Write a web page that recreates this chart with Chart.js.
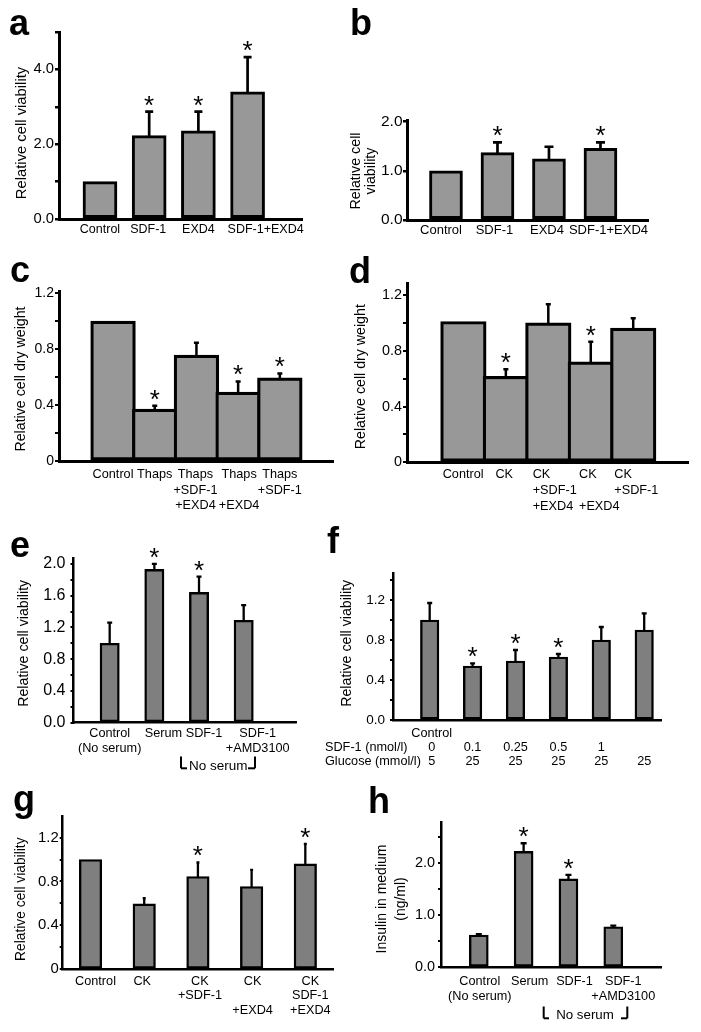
<!DOCTYPE html>
<html><head><meta charset="utf-8">
<script src="https://cdn.jsdelivr.net/npm/chart.js@4.4.1/dist/chart.umd.min.js"></script>
<style>
html,body{margin:0;padding:0;background:#fff;}
body{width:701px;height:1032px;position:relative;overflow:hidden;}
canvas{position:absolute;}
</style></head><body>
<script>
// ---------- DATA ----------
// a
const aCategories = ['Control','SDF-1','EXD4','SDF-1+EXD4'];
const aValues = [1.0, 2.23, 2.36, 3.40];
const aErrors = [null, 2.87, 2.87, 4.33];
const aStars = [false, true, true, true];
const aTicks = [0,1,2,3,4,5];
const aTickLabels = ['0.0','','2.0','','4.0',''];
// b
const bCategories = ['Control','SDF-1','EXD4','SDF-1+EXD4'];
const bValues = [1.0, 1.37, 1.245, 1.46];
const bErrors = [null, 1.58, 1.49, 1.58];
const bStars = [false, true, false, true];
const bTicks = [0,1,2];
const bTickLabels = ['0.0','1.0','2.0'];
// c
const cCategories = ['Control','Thaps',['Thaps','+SDF-1','+EXD4'],['Thaps','','+EXD4'],['Thaps','+SDF-1']];
const cValues = [1.0, 0.371, 0.757, 0.493, 0.595];
const cErrors = [null, 0.395, 0.845, 0.569, 0.626];
const cStars = [false, true, false, true, true];
const cTicks = [0,0.2,0.4,0.6,0.8,1.0,1.2];
const cTickLabels = ['0','','0.4','','0.8','','1.2'];
// d
const dCategories = ['Control','CK',['CK','+SDF-1','+EXD4'],['CK','','+EXD4'],['CK','+SDF-1']];
const dValues = [1.01, 0.617, 1.0, 0.72, 0.963];
const dErrors = [null, 0.667, 1.133, 0.865, 1.033];
const dStars = [false, true, false, true, false];
const dTicks = [0,0.2,0.4,0.6,0.8,1.0,1.2];
const dTickLabels = ['0','','0.4','','0.8','','1.2'];
// e
const eCategories = [['Control','(No serum)'],'Serum','SDF-1',['SDF-1','+AMD3100']];
const eValues = [1.0, 1.93, 1.64, 1.29];
const eErrors = [1.26, 2.0, 1.84, 1.48];
const eStars = [false, true, true, false];
const eTicks = [0,0.2,0.4,0.6,0.8,1.0,1.2,1.4,1.6,1.8,2.0];
const eTickLabels = ['0.0','','0.4','','0.8','','1.2','','1.6','','2.0'];
// f
const fCategories = [['Control','0','5'],['','0.1','25'],['','0.25','25'],['','0.5','25'],['','1','25'],['','','25']];
const fRowHeaders = ['SDF-1 (nmol/l)','Glucose (mmol/l)'];
const fValues = [1.0, 0.54, 0.59, 0.63, 0.80, 0.90];
const fErrors = [1.17, 0.567, 0.70, 0.66, 0.93, 1.067];
const fStars = [false, true, true, true, false, false];
const fTicks = [0,0.2,0.4,0.6,0.8,1.0,1.2,1.4];
const fTickLabels = ['0.0','','0.4','','0.8','','1.2',''];
// g
const gCategories = ['Control','CK',['CK','+SDF-1'],['CK','','+EXD4'],['CK','SDF-1','+EXD4']];
const gValues = [1.0, 0.596, 0.845, 0.754, 0.96];
const gErrors = [null, 0.647, 0.973, 0.906, 1.143];
const gStars = [false, false, true, false, true];
const gTicks = [0,0.2,0.4,0.6,0.8,1.0,1.2];
const gTickLabels = ['0','','0.4','','0.8','','1.2'];
// h
const hCategories = [['Control','(No serum)'],'Serum','SDF-1',['SDF-1','+AMD3100']];
const hValues = [0.62, 2.23, 1.70, 0.78];
const hErrors = [0.635, 2.385, 1.776, 0.80];
const hStars = [false, true, true, false];
const hTicks = [0,0.5,1.0,1.5,2.0,2.5];
const hTickLabels = ['0.0','','1.0','','2.0',''];

// ---------- RENDERING ----------
const FONT = "'Liberation Sans', Arial, Helvetica, sans-serif";
Chart.defaults.font.family = FONT;

function overlay(p) {
  const [bx, by] = p.box;
  return {
    id: 'overlay',
    afterDatasetsDraw(chart) {
      const ctx = chart.ctx;
      const meta = chart.getDatasetMeta(0);
      const ys = chart.scales.y;
      ctx.save();
      ctx.strokeStyle = '#000';
      ctx.fillStyle = '#000';
      ctx.lineWidth = p.errWidth;
      p.errors.forEach((e, i) => {
        const x = meta.data[i].x;
        const y0 = ys.getPixelForValue(p.values[i]);
        let yTop = y0;
        if (e != null) {
          const y1 = ys.getPixelForValue(e);
          yTop = y1;
          ctx.beginPath();
          ctx.moveTo(x, y0 + 1);
          ctx.lineTo(x, y1);
          ctx.moveTo(x - p.cap / 2, y1);
          ctx.lineTo(x + p.cap / 2, y1);
          ctx.stroke();
        }
        if (p.stars[i]) {
          const s = 26;
          ctx.font = s + 'px ' + FONT;
          ctx.textAlign = 'center';
          ctx.textBaseline = 'alphabetic';
          ctx.fillText('*', x, yTop - 13 + 0.575 * s);
        }
      });
      ctx.restore();
    },
    afterDraw(chart) {
      const ctx = chart.ctx;
      ctx.save();
      ctx.fillStyle = '#000';
      ctx.strokeStyle = '#000';
      // category labels positioned by the x scale
      const xs = chart.scales.x;
      const base = chart.chartArea.bottom;
      const lh = p.catFont * p.catLH;
      ctx.font = p.catFont + 'px ' + FONT;
      ctx.textBaseline = 'middle';
      ctx.textAlign = p.xAlign === 'start' ? 'left' : 'center';
      p.categories.forEach((lab, i) => {
        const lines = Array.isArray(lab) ? lab : [lab];
        const x = xs.getPixelForValue(i + 1) + (p.labelShift ? p.labelShift[i] : 0);
        lines.forEach((ln, k) => ctx.fillText(ln, x, base + p.xPad + lh * (k + 0.5)));
      });
      (p.texts || []).forEach(t => {
        ctx.save();
        ctx.translate(t.x - bx, t.y - by);
        if (t.rot) ctx.rotate(-Math.PI / 2);
        ctx.font = (t.weight || 'normal') + ' ' + t.size + 'px ' + FONT;
        ctx.textAlign = t.align || 'center';
        ctx.textBaseline = t.baseline || 'middle';
        ctx.fillText(t.text, 0, 0);
        ctx.restore();
      });
      ctx.lineWidth = 2;
      (p.lines || []).forEach(l => {
        ctx.beginPath();
        ctx.moveTo(l[0] - bx, l[1] - by);
        ctx.lineTo(l[2] - bx, l[3] - by);
        ctx.stroke();
      });
      ctx.restore();
    }
  };
}

function makePanel(p) {
  const [bx, by, bw, bh] = p.box;
  const [al, at, ar, ab] = p.area;
  const c = document.createElement('canvas');
  c.width = bw; c.height = bh;
  c.style.left = bx + 'px'; c.style.top = by + 'px';
  c.style.width = bw + 'px'; c.style.height = bh + 'px';
  document.body.appendChild(c);
  new Chart(c, {
    type: 'bar',
    data: {
      datasets: [{
        data: p.values.map((v, i) => ({x: i + 1, y: v})),
        backgroundColor: p.fill,
        borderColor: '#000',
        borderWidth: p.barBorder,
        borderSkipped: false,
        barThickness: p.barWidth
      }]
    },
    options: {
      responsive: false,
      animation: false,
      devicePixelRatio: 1,
      layout: {autoPadding: false, padding: {left: 0, top: at - by, right: bx + bw - ar, bottom: 0}},
      plugins: {legend: {display: false}, tooltip: {enabled: false}},
      scales: {
        x: {
          type: 'linear', offset: false,
          min: p.xRange[0], max: p.xRange[1],
          afterFit: s => { s.height = by + bh - ab; },
          afterBuildTicks: s => { s.ticks = p.categories.map((_, i) => ({value: i + 1})); },
          grid: {display: false, drawTicks: false},
          border: {display: true, color: '#000', width: p.axisWidth},
          ticks: {display: false}
        },
        y: {
          type: 'linear', min: 0, max: p.yMax,
          afterFit: s => { s.width = al - bx; },
          afterBuildTicks: s => { s.ticks = p.ticks.map(v => ({value: v})); },
          grid: {display: true, drawOnChartArea: false, drawTicks: true, tickLength: p.tickLen, color: '#000', lineWidth: p.tickWidth},
          border: {display: true, color: '#000', width: p.axisWidth},
          ticks: {
            autoSkip: false, padding: p.yPad, color: '#000',
            font: {family: FONT, size: p.tickFont},
            callback: (v, i) => p.tickLabels[i]
          }
        }
      }
    },
    plugins: [overlay(p)]
  });
}

const LIGHT = '#989898', DARK = '#7f7f7f';

makePanel({
  box: [0, 0, 350, 245], area: [59, 32, 302, 219], xRange: [0.167, 5.106],
  categories: aCategories, values: aValues, errors: aErrors, stars: aStars, ticks: aTicks, tickLabels: aTickLabels,
  yMax: 5.0, fill: LIGHT, barBorder: 3, barWidth: 34, axisWidth: 3, tickLen: 4, tickWidth: 2.5, tickFont: 14.8, yPad: 1,
  catFont: 12.5, catLH: 1.2, xPad: 3.4, labelShift: [0, -1, 0, 18], errWidth: 2.7, cap: 8,
  texts: [
    {text: 'a', x: 9, y: 35, size: 36, weight: 'bold', align: 'left', baseline: 'alphabetic'},
    {text: 'Relative cell viability', x: 21.7, y: 133, size: 14.8, rot: true}
  ]
});

makePanel({
  box: [350, 0, 351, 245], area: [407, 120.7, 648, 220], xRange: [0.243, 4.923],
  categories: bCategories, values: bValues, errors: bErrors, stars: bStars, ticks: bTicks, tickLabels: bTickLabels,
  yMax: 2.02, fill: LIGHT, barBorder: 3, barWidth: 33, axisWidth: 3, tickLen: 4, tickWidth: 2.5, tickFont: 15.5, yPad: 0.5,
  catFont: 13, catLH: 1.2, xPad: 2.4, labelShift: [-5, -3, -2, 8], errWidth: 2.7, cap: 9,
  texts: [
    {text: 'b', x: 350, y: 35, size: 36, weight: 'bold', align: 'left', baseline: 'alphabetic'},
    {text: 'Relative cell', x: 356, y: 171, size: 14.3, rot: true},
    {text: 'viability', x: 371, y: 171, size: 14.3, rot: true}
  ]
});

makePanel({
  box: [0, 245, 350, 272], area: [59, 291.7, 333, 461], xRange: [-0.296, 6.275],
  categories: cCategories, values: cValues, errors: cErrors, stars: cStars, ticks: cTicks, tickLabels: cTickLabels,
  yMax: 1.211, fill: LIGHT, barBorder: 3.2, barWidth: 44.7, axisWidth: 3, tickLen: 4, tickWidth: 2, tickFont: 14, yPad: 1,
  catFont: 12.7, catLH: 1.236, xPad: 5.5, labelShift: [0, 0, -1, 1, 0], errWidth: 2.5, cap: 5,
  texts: [
    {text: 'c', x: 10, y: 282, size: 36, weight: 'bold', align: 'left', baseline: 'alphabetic'},
    {text: 'Relative cell dry weight', x: 20.7, y: 379, size: 14.2, rot: true}
  ]
});

makePanel({
  box: [350, 245, 351, 272], area: [407, 283.3, 688.3, 462.3], xRange: [-0.328, 6.297],
  categories: dCategories, values: dValues, errors: dErrors, stars: dStars, ticks: dTicks, tickLabels: dTickLabels,
  yMax: 1.284, fill: LIGHT, barBorder: 3.2, barWidth: 45.5, axisWidth: 3, tickLen: 4, tickWidth: 2, tickFont: 14.4, yPad: 1,
  catFont: 12.7, catLH: 1.236, xPad: 4.8, xAlign: 'start', labelShift: [-20.7, -10.4, -15.6, -11.8, -18.9], errWidth: 2.5, cap: 5,
  texts: [
    {text: 'd', x: 349, y: 283, size: 36, weight: 'bold', align: 'left', baseline: 'alphabetic'},
    {text: 'Relative cell dry weight', x: 361, y: 376.7, size: 14.2, rot: true}
  ]
});

makePanel({
  box: [0, 517, 320, 263], area: [73.5, 558.3, 296.7, 722.7], xRange: [0.19, 5.187],
  categories: eCategories, values: eValues, errors: eErrors, stars: eStars, ticks: eTicks, tickLabels: eTickLabels,
  yMax: 2.07, fill: DARK, barBorder: 2.4, barWidth: 19.3, axisWidth: 2.5, tickLen: 3, tickWidth: 2, tickFont: 16, yPad: 5,
  catFont: 12.7, catLH: 1.18, xPad: 3.1, labelShift: [0, 9, 5, 14], errWidth: 2.3, cap: 5,
  texts: [
    {text: 'e', x: 10, y: 557, size: 36, weight: 'bold', align: 'left', baseline: 'alphabetic'},
    {text: 'Relative cell viability', x: 24, y: 643.3, size: 14.2, rot: true},
    {text: 'No serum', x: 218.3, y: 766.7, size: 13.5}
  ],
  lines: [[181, 756.5, 181, 768.3], [181, 768.3, 187, 768.3], [248, 768.3, 255, 768.3], [255, 756.5, 255, 768.3]]
});

makePanel({
  box: [320, 517, 381, 263], area: [393, 573.3, 661.7, 720], xRange: [0.145, 6.408],
  categories: fCategories, values: fValues, errors: fErrors, stars: fStars, ticks: fTicks, tickLabels: fTickLabels,
  yMax: 1.467, fill: DARK, barBorder: 2.4, barWidth: 18.5, axisWidth: 2.5, tickLen: 3, tickWidth: 2, tickFont: 13.5, yPad: 5,
  catFont: 12.7, catLH: 1.12, xPad: 6.2, labelShift: [2, 0, 0, 0, 0, 0], errWidth: 2.3, cap: 5,
  texts: [
    {text: 'f', x: 327, y: 553, size: 36, weight: 'bold', align: 'left', baseline: 'alphabetic'},
    {text: 'Relative cell viability', x: 347, y: 643.3, size: 14.2, rot: true},
    {text: fRowHeaders[0], x: 325, y: 747.3, size: 12.7, align: 'left'},
    {text: fRowHeaders[1], x: 325, y: 761.7, size: 12.7, align: 'left'}
  ]
});

makePanel({
  box: [0, 780, 350, 252], area: [62.7, 816.7, 333.3, 969.3], xRange: [0.482, 5.521],
  categories: gCategories, values: gValues, errors: gErrors, stars: gStars, ticks: gTicks, tickLabels: gTickLabels,
  yMax: 1.39, fill: DARK, barBorder: 2.4, barWidth: 22.5, axisWidth: 2.5, tickLen: 3, tickWidth: 2, tickFont: 14.9, yPad: 1,
  catFont: 12.7, catLH: 1.12, xPad: 5.3, labelShift: [5, -2, 2, 1, 5], errWidth: 2.3, cap: 3,
  texts: [
    {text: 'g', x: 13, y: 811, size: 36, weight: 'bold', align: 'left', baseline: 'alphabetic'},
    {text: 'Relative cell viability', x: 21, y: 899.2, size: 13.8, rot: true}
  ]
});

makePanel({
  box: [350, 780, 351, 252], area: [441.5, 822.7, 661.7, 967.3], xRange: [0.168, 5.08],
  categories: hCategories, values: hValues, errors: hErrors, stars: hStars, ticks: hTicks, tickLabels: hTickLabels,
  yMax: 2.78, fill: DARK, barBorder: 2.4, barWidth: 19, axisWidth: 2.5, tickLen: 3.5, tickWidth: 2, tickFont: 14.4, yPad: 3,
  catFont: 12.7, catLH: 1.13, xPad: 7.2, labelShift: [1, 6, 6, 10], errWidth: 2.3, cap: 6,
  texts: [
    {text: 'h', x: 368, y: 813, size: 36, weight: 'bold', align: 'left', baseline: 'alphabetic'},
    {text: 'Insulin in medium', x: 382, y: 899, size: 14, rot: true},
    {text: '(ng/ml)', x: 401, y: 899, size: 14, rot: true},
    {text: 'No serum', x: 585, y: 1015, size: 13.3}
  ],
  lines: [[543.7, 1006.5, 543.7, 1018.3], [543.7, 1018.3, 549, 1018.3], [621, 1018.3, 627.3, 1018.3], [627.3, 1006.5, 627.3, 1018.3]]
});
</script>
</body></html>
